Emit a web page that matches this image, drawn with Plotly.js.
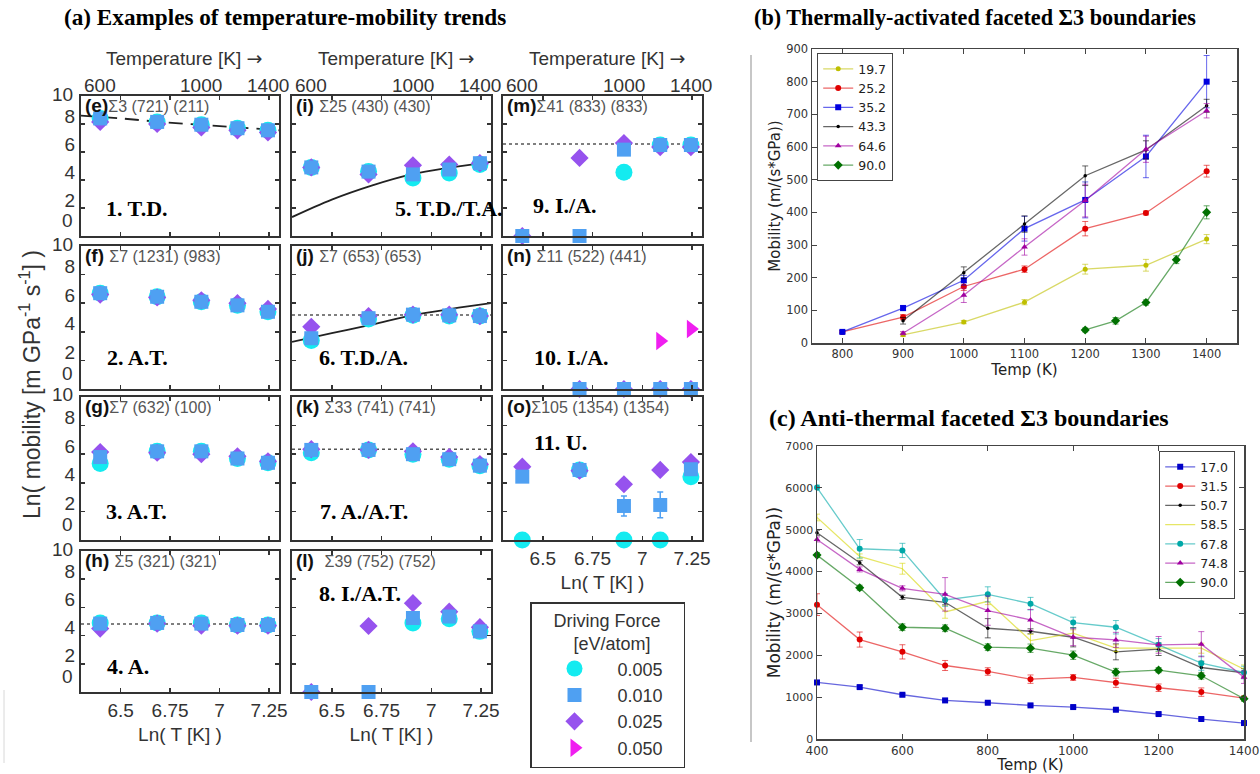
<!DOCTYPE html>
<html>
<head>
<meta charset="utf-8">
<script src="https://cdn.plot.ly/plotly-3.0.1.min.js"></script>
<style>
  html, body { margin: 0; padding: 0; background: #fff; }
  #chart { width: 1260px; height: 774px; }
</style>
</head>
<body>
<div id="chart"></div>
<script>
// ---------------- Panel (a): Ln(mobility) vs Ln(T) ----------------
const TEMPS_K = [600, 800, 1000, 1200, 1400];
const TOP_TICK_TEMPS = [600, 1000, 1400];
const LN_T_TICKS = [6.5, 6.75, 7, 7.25];
const LN_T_TICK_TEXT = ['6.5', '6.75', '7', '7.25'];
const LN_MOB_INNER_TICKS = [2, 4, 6, 8];
const LN_MOB_END_TICKS = [0, 10];
const DRIVING_FORCES = ['0.005', '0.010', '0.025', '0.050'];

// Ln(mobility) for driving forces 0.005 / 0.010 / 0.025 / 0.050 eV/atom (null = no point)
const e_005 = [8.4, 8.15, 7.95, 7.7, 7.55];
const e_010 = [8.4, 8.15, 7.95, 7.7, 7.55];
const e_025 = [8.15, 8.0, 7.75, 7.55, 7.4];

const i_005 = [4.9, 4.6, 4.15, 4.5, 5.1];
const i_010 = [4.9, 4.6, 4.4, 4.75, 5.2];
const i_025 = [4.9, 4.4, 5.05, 5.1, 5.2];

const m_005 = [null, null, 4.56, 6.5, 6.5];
const m_010 = [0, 0, 6.17, 6.5, 6.5];
const m_025 = [0, 5.58, 6.64, 6.35, 6.35];

const f_005 = [6.7, 6.45, 6.1, 5.85, 5.4];
const f_010 = [6.7, 6.45, 6.1, 5.85, 5.4];
const f_025 = [6.6, 6.4, 6.2, 6.0, 5.6];

const j_005 = [3.4, 4.9, 5.15, 5.1, 5.1];
const j_010 = [3.55, 4.95, 5.2, 5.15, 5.1];
const j_025 = [4.35, 5.1, 5.2, 5.2, 5.1];

const n_010 = [null, 0, 0, 0, 0];
const n_025 = [null, 0, 0, 0, 0];
const n_050 = [null, null, null, 3.36, 4.2];

const g_005 = [5.35, 6.2, 6.2, 5.7, 5.4];
const g_010 = [5.8, 6.2, 6.2, 5.7, 5.4];
const g_025 = [6.15, 6.1, 6.0, 5.85, 5.5];

const k_005 = [6.1, 6.3, 6.0, 5.65, 5.2];
const k_010 = [6.3, 6.3, 6.0, 5.65, 5.2];
const k_025 = [6.35, 6.3, 6.2, 5.8, 5.3];

const o_005 = [0, 4.9, 0, 0, 4.43];
const o_010 = [4.43, 4.9, 2.38, 2.45, 4.95];
const o_010_err = [0, 0, 0.7, 0.9, 0];
const o_025 = [5.13, 4.85, 3.9, 4.9, 5.45];

const h_005 = [4.9, 4.9, 4.9, 4.75, 4.75];
const h_010 = [4.85, 4.9, 4.85, 4.75, 4.75];
const h_025 = [4.5, 4.85, 4.7, 4.7, 4.7];

const l_005 = [null, null, 4.9, 5.2, 4.3];
const l_010 = [0, 0, 5.25, 5.35, 4.3];
const l_025 = [0, 4.68, 6.3, 5.7, 4.6];

// Fitted trends sampled along Ln(T)
const FIT_LNT = [6.3, 6.5, 6.7, 6.9, 7.1, 7.3];
const e_fit = [8.6, 8.4, 8.15, 7.95, 7.75, 7.55];
const i_fit = [1.35, 2.6, 3.6, 4.4, 4.9, 5.3];
const j_fit = [3.3, 3.9, 4.5, 5.15, 5.6, 6.0];
// Athermal reference levels
const m_level = 6.57;
const j_level = 5.18;
const k_level = 6.34;
const h_level = 4.82;

// ---------------- Panel (b): thermally-activated faceted Σ3 ----------------
const B_T_800 = [800, 900, 1000, 1100, 1200, 1300, 1400];
const B_T_900 = [900, 1000, 1100, 1200, 1300, 1400];
const B_T_1200 = [1200, 1250, 1300, 1350, 1400];
const b_197 = [25, 64, 125, 226, 238, 318];
const b_197_err = [5, 5, 8, 15, 18, 14];
const b_252 = [34, 79, 173, 226, 350, 398, 526];
const b_252_err = [4, 8, 12, 10, 22, 6, 18];
const b_352 = [34, 107, 192, 350, 438, 571, 800];
const b_352_err = [4, 8, 15, 38, 55, 65, 80];
const b_433 = [68, 215, 364, 512, 591, 726];
const b_433_err = [10, 18, 25, 30, 28, 20];
const b_646 = [30, 146, 294, 436, 593, 711];
const b_646_err = [5, 22, 25, 50, 40, 22];
const b_900 = [40, 68, 124, 255, 400];
const b_900_err = [6, 10, 8, 12, 20];

// ---------------- Panel (c): anti-thermal faceted Σ3 ----------------
const C_T = [400, 500, 600, 700, 800, 900, 1000, 1100, 1200, 1300, 1400];
const c_170 = [1351, 1240, 1057, 922, 866, 803, 763, 699, 596, 477, 381];
const c_170_err = [30, 40, 30, 30, 30, 30, 30, 30, 30, 30, 30];
const c_315 = [3210, 2376, 2082, 1756, 1613, 1430, 1470, 1343, 1224, 1120, 977];
const c_315_err = [260, 180, 170, 120, 90, 100, 70, 110, 90, 100, 50];
const c_507 = [4927, 4211, 3385, 3266, 2646, 2574, 2431, 2082, 2145, 1708, 1581];
const c_507_err = [60, 50, 50, 60, 230, 60, 230, 190, 150, 150, 100];
const c_585 = [5292, 4362, 4068, 3035, 3290, 2352, 2527, 2169, 2169, 2169, 1669];
const c_585_err = [80, 60, 130, 150, 80, 150, 80, 80, 80, 120, 100];
const c_678 = [6007, 4545, 4505, 3321, 3456, 3234, 2781, 2670, 2249, 1812, 1589];
const c_678_err = [60, 220, 170, 150, 180, 150, 130, 160, 150, 170, 150];
const c_748 = [4768, 4052, 3600, 3456, 3067, 2845, 2431, 2368, 2249, 2265, 1478];
const c_748_err = [60, 60, 60, 400, 350, 250, 200, 180, 200, 300, 150];
const c_900 = [4394, 3615, 2670, 2646, 2193, 2169, 2002, 1597, 1645, 1510, 961];
const c_900_err = [60, 60, 80, 80, 80, 100, 100, 90, 60, 80, 60];

// ---------------- Page geometry helpers ----------------
const W = 1260, H = 774;
const px = x => x / W;
const py = y => 1 - y / H;
const LN_T_RANGE = [6.3, 7.3];
const COL_PX = [[81, 279], [292, 491], [503, 702]];
const ROW_PX = [[96, 236], [246, 389], [397, 540], [551, 692]];
const SANS = 'Liberation Sans, Arial, sans-serif';
const SERIF = 'Liberation Serif, Times New Roman, serif';
const MPL = 'DejaVu Sans, sans-serif';
const INK = '#333';
const tickFont = () => ({ family: SANS, size: 19, color: INK });

const FORCE_STYLE = [
  { symbol: 'circle', size: 17, color: '#14EBF0' },
  { symbol: 'square', size: 14, color: '#4FA0F2' },
  { symbol: 'diamond', size: 14, color: '#9652EE' },
  { symbol: 'triangle-right', size: 16, color: '#F01EF0' }
];
const DRAW_ORDER = [0, 2, 1, 3];

const PANELS = [
  { tag: '(e)', gb: 'Σ3 (721) (211)', sp: '', cls: '1. T.D.', at: [0.116, 0.2], row: 0, col: 0, vals: [e_005, e_010, e_025, null], fit: e_fit, dash: 'dash' },
  { tag: '(i)', gb: 'Σ25 (430) (430)', sp: ' ', cls: '5. T.D./T.A.', at: [0.51, 0.2], row: 0, col: 1, vals: [i_005, i_010, i_025, null], fit: i_fit, dash: 'solid' },
  { tag: '(m)', gb: 'Σ41 (833) (833)', sp: '', cls: '9. I./A.', at: [0.14, 0.22], row: 0, col: 2, vals: [m_005, m_010, m_025, null], level: m_level },
  { tag: '(f)', gb: 'Σ7 (1231) (983)', sp: ' ', cls: '2. A.T.', at: [0.12, 0.22], row: 1, col: 0, vals: [f_005, f_010, f_025, null] },
  { tag: '(j)', gb: 'Σ7 (653) (653)', sp: ' ', cls: '6. T.D./A.', at: [0.126, 0.22], row: 1, col: 1, vals: [j_005, j_010, j_025, null], fit: j_fit, dash: 'solid', level: j_level },
  { tag: '(n)', gb: 'Σ11 (522) (441)', sp: ' ', cls: '10. I./A.', at: [0.145, 0.22], row: 1, col: 2, vals: [null, n_010, n_025, n_050] },
  { tag: '(g)', gb: 'Σ7 (632) (100)', sp: '', cls: '3. A.T.', at: [0.116, 0.2], row: 2, col: 0, vals: [g_005, g_010, g_025, null] },
  { tag: '(k)', gb: 'Σ33 (741) (741)', sp: ' ', cls: '7. A./A.T.', at: [0.13, 0.2], row: 2, col: 1, vals: [k_005, k_010, k_025, null], level: k_level },
  { tag: '(o)', gb: 'Σ105 (1354) (1354)', sp: '', cls: '11. U.', at: [0.145, 0.685], row: 2, col: 2, vals: [o_005, o_010, o_025, null], err: [null, o_010_err, null, null], bottom: true },
  { tag: '(h)', gb: 'Σ5 (321) (321)', sp: ' ', cls: '4. A.', at: [0.12, 0.18], row: 3, col: 0, vals: [h_005, h_010, h_025, null], level: h_level, bottom: true },
  { tag: '(l)', gb: 'Σ39 (752) (752)', sp: '&nbsp;&nbsp;', cls: '8. I./A.T.', at: [0.126, 0.70], row: 3, col: 1, vals: [l_005, l_010, l_025, null], bottom: true }
];

const axId = (k, letter) => (k === 1 ? letter : letter + k);
const axKey = (k, letter) => (k === 1 ? letter + 'axis' : letter + 'axis' + k);

const LN_T = TEMPS_K.map(Math.log);
const traces = [];
const layout = {
  width: W, height: H,
  margin: { l: 0, r: 0, t: 0, b: 0 },
  paper_bgcolor: '#fff', plot_bgcolor: '#fff',
  font: { family: SANS, color: INK },
  showlegend: true,
  annotations: [], shapes: []
};

const legendShown = [false, false, false, false];

PANELS.forEach((p, idx) => {
  const k = idx + 1;
  const xid = axId(k, 'x'), yid = axId(k, 'y');
  const [x0, x1] = COL_PX[p.col];
  const [y0, y1] = ROW_PX[p.row];
  const frame = () => ({
    showline: true, linecolor: INK, linewidth: 2, mirror: 'ticks',
    ticks: 'inside', ticklen: 4, tickwidth: 1.5, tickcolor: INK,
    showgrid: false, zeroline: false, fixedrange: true, tickfont: tickFont()
  });
  layout[axKey(k, 'x')] = Object.assign(frame(), {
    domain: [px(x0), px(x1)], range: LN_T_RANGE.slice(), anchor: yid,
    tickvals: LN_T_TICKS, ticktext: LN_T_TICK_TEXT,
    showticklabels: !!p.bottom,
    title: p.bottom ? { text: 'Ln( T [K] )', font: tickFont(), standoff: 8 } : { text: '' }
  });
  const leftCol = p.col === 0;
  layout[axKey(k, 'y')] = Object.assign(frame(), {
    domain: [py(y1), py(y0)], range: [0, 10], anchor: xid,
    tickvals: LN_MOB_INNER_TICKS, ticktext: LN_MOB_INNER_TICKS.map(String),
    showticklabels: leftCol, ticklabelshift: -8
  });
  // End labels (0 and 10) are nudged apart from the neighbouring panels' labels
  if (leftCol) {
    LN_MOB_END_TICKS.forEach(v => {
      layout.annotations.push({
        xref: xid + ' domain', yref: yid, x: 0, y: v, xanchor: 'right', yanchor: 'middle',
        xshift: -6, yshift: v === 0 ? 16 : 2, showarrow: false,
        text: String(v), font: tickFont()
      });
    });
  }

  // Temperature scale along the top of the first row, placed at Ln(T)
  if (p.row === 0) {
    TOP_TICK_TEMPS.forEach(t => {
      layout.annotations.push({
        xref: xid, yref: yid + ' domain', x: Math.log(t), y: 1,
        xanchor: 'center', yanchor: 'bottom', yshift: -2, showarrow: false,
        text: String(t), font: tickFont()
      });
    });
    layout.annotations.push({
      xref: xid + ' domain', yref: yid + ' domain', x: 0.5, y: 1,
      xanchor: 'center', yanchor: 'bottom', xshift: 4, yshift: 25, showarrow: false,
      text: 'Temperature [K] <span style="font-family:\'DejaVu Sans\';color:#333">→</span>',
      font: tickFont()
    });
  }

  // Athermal reference level
  if (p.level !== undefined) {
    traces.push({
      type: 'scatter', mode: 'lines', x: LN_T_RANGE, y: [p.level, p.level],
      xaxis: xid, yaxis: yid, showlegend: false, hoverinfo: 'skip',
      line: { color: '#555', width: 1.5, dash: 'dot' }
    });
  }
  // Fitted trend
  if (p.fit) {
    traces.push({
      type: 'scatter', mode: 'lines', x: FIT_LNT, y: p.fit,
      line: { shape: 'spline', color: '#222', width: 1.8, dash: p.dash === 'dash' ? '14px,8px' : 'solid' },
      xaxis: xid, yaxis: yid, showlegend: false, hoverinfo: 'skip'
    });
  }

  DRAW_ORDER.forEach(fi => {
    const vals = p.vals[fi];
    if (!vals) return;
    const st = FORCE_STYLE[fi];
    const tr = {
      type: 'scatter', mode: 'markers', x: LN_T, y: vals,
      xaxis: xid, yaxis: yid, cliponaxis: false,
      name: DRIVING_FORCES[fi], legendgroup: DRIVING_FORCES[fi], legendrank: fi + 1,
      legend: 'legend', showlegend: !legendShown[fi],
      marker: { symbol: st.symbol, size: st.size, color: st.color, line: { width: 0 } }
    };
    legendShown[fi] = true;
    if (p.err && p.err[fi]) {
      tr.error_y = { type: 'data', array: p.err[fi], visible: true, color: st.color, thickness: 1.5, width: 3 };
    }
    traces.push(tr);
  });

  // Panel tag and boundary description
  layout.annotations.push({
    xref: xid + ' domain', yref: yid + ' domain', x: 0.012, y: 0.935,
    xanchor: 'left', yanchor: 'middle', showarrow: false,
    text: '<b>' + p.tag + '</b>' + p.sp + '<span style="font-size:16px;color:#555;font-weight:normal">' + p.gb + '</span>',
    font: { family: SANS, size: 19, color: '#111' }
  });
  // Trend class
  layout.annotations.push({
    xref: xid + ' domain', yref: yid + ' domain', x: p.at[0], y: p.at[1],
    xanchor: 'left', yanchor: 'middle', showarrow: false,
    text: '<b>' + p.cls + '</b>', font: { family: SERIF, size: 22, color: '#000' }
  });
});

// Shared y-axis title for panel (a)
layout.annotations.push({
  xref: 'paper', yref: 'paper', x: px(30), y: py(385), xanchor: 'center', yanchor: 'middle',
  textangle: -90, showarrow: false,
  text: 'Ln( mobility [m GPa<sup>-1</sup> s<sup>-1</sup>] )',
  font: { family: SANS, size: 23, color: INK }
});

layout.legend = {
  x: px(530), y: py(602), xanchor: 'left', yanchor: 'top',
  bgcolor: '#fff', bordercolor: INK, borderwidth: 1.5,
  font: { family: SANS, size: 18, color: INK },
  title: {
    text: '&nbsp;&nbsp;&nbsp;&nbsp;Driving Force&nbsp;&nbsp;&nbsp;&nbsp;<br>&nbsp;&nbsp;&nbsp;&nbsp;&nbsp;&nbsp;&nbsp;&nbsp;[eV/atom]',
    side: 'top', font: { family: SANS, size: 18, color: INK }
  },
  itemwidth: 76, traceorder: 'normal'
};

// ---------------- Panels (b) and (c): matplotlib-style frames ----------------
const mplFrame = () => ({
  showline: true, linecolor: '#444', linewidth: 1.5, mirror: 'allticks',
  ticks: 'inside', ticklen: 5, tickwidth: 1, tickcolor: '#444',
  showgrid: false, zeroline: false, fixedrange: true
});
layout.xaxis12 = Object.assign(mplFrame(), {
  domain: [px(812), px(1237)], range: [750, 1450], dtick: 100, anchor: 'y12',
  tickfont: { family: MPL, size: 11.5, color: INK },
  title: { text: 'Temp (K)', font: { family: MPL, size: 15, color: '#222' }, standoff: 4 }
});
layout.yaxis12 = Object.assign(mplFrame(), {
  domain: [py(343), py(49)], range: [0, 900], dtick: 100, anchor: 'x12',
  tickfont: { family: MPL, size: 11.5, color: INK },
  title: { text: 'Mobility (m/(s*GPa))', font: { family: MPL, size: 15, color: '#222' }, standoff: 2 }
});
layout.xaxis13 = Object.assign(mplFrame(), {
  domain: [px(817), px(1244)], range: [400, 1400], dtick: 200, anchor: 'y13',
  tickfont: { family: MPL, size: 12, color: INK },
  title: { text: 'Temp (K)', font: { family: MPL, size: 15, color: '#222' }, standoff: 2 }
});
layout.yaxis13 = Object.assign(mplFrame(), {
  domain: [py(739), py(446)], range: [0, 7000], dtick: 1000, anchor: 'x13',
  tickfont: { family: MPL, size: 11, color: INK },
  title: { text: 'Mobility (m/(s*GPa))', font: { family: MPL, size: 17, color: '#222' }, standoff: 0 }
});

function rgba(hex, a) {
  const n = parseInt(hex.slice(1), 16);
  return 'rgba(' + (n >> 16 & 255) + ',' + (n >> 8 & 255) + ',' + (n & 255) + ',' + a + ')';
}
function mplSeries(name, x, y, err, color, symbol, size, axis, legend, showMarker) {
  return {
    type: 'scatter', mode: showMarker === false ? 'lines' : 'lines+markers', name, x, y,
    xaxis: 'x' + axis, yaxis: 'y' + axis, legend, cliponaxis: false,
    line: { color: rgba(color, 0.6), width: 1.3 },
    marker: { color: color, symbol, size, line: { width: 0 } },
    error_y: { type: 'data', array: err, visible: true, color: rgba(color, 0.6), thickness: 1, width: 3 }
  };
}

traces.push(
  mplSeries('19.7', B_T_900, b_197, b_197_err, '#BFBF00', 'circle', 5, 12, 'legend2'),
  mplSeries('25.2', B_T_800, b_252, b_252_err, '#E00000', 'circle', 6, 12, 'legend2'),
  mplSeries('35.2', B_T_800, b_352, b_352_err, '#0000E0', 'square', 6, 12, 'legend2'),
  mplSeries('43.3', B_T_900, b_433, b_433_err, '#000000', 'circle', 3.5, 12, 'legend2'),
  mplSeries('64.6', B_T_900, b_646, b_646_err, '#A000A0', 'triangle-up', 6, 12, 'legend2'),
  mplSeries('90.0', B_T_1200, b_900, b_900_err, '#007000', 'diamond', 7, 12, 'legend2'),

  mplSeries('17.0', C_T, c_170, c_170_err, '#0000C8', 'square', 6, 13, 'legend3'),
  mplSeries('31.5', C_T, c_315, c_315_err, '#E00000', 'circle', 6, 13, 'legend3'),
  mplSeries('50.7', C_T, c_507, c_507_err, '#000000', 'circle', 3.5, 13, 'legend3'),
  mplSeries('58.5', C_T, c_585, c_585_err, '#D6D600', 'circle', 3, 13, 'legend3', false),
  mplSeries('67.8', C_T, c_678, c_678_err, '#00A8A8', 'circle', 6, 13, 'legend3'),
  mplSeries('74.8', C_T, c_748, c_748_err, '#A000A0', 'triangle-up', 6, 13, 'legend3'),
  mplSeries('90.0', C_T, c_900, c_900_err, '#007000', 'diamond', 7, 13, 'legend3')
);

layout.legend2 = {
  x: px(817), y: py(53), xanchor: 'left', yanchor: 'top',
  bgcolor: '#fff', bordercolor: '#444', borderwidth: 1.2,
  font: { family: MPL, size: 12.5, color: '#222' }, traceorder: 'normal'
};
layout.legend3 = {
  x: px(1159), y: py(451), xanchor: 'left', yanchor: 'top',
  bgcolor: '#fff', bordercolor: '#444', borderwidth: 1.2,
  font: { family: MPL, size: 12.5, color: '#222' }, traceorder: 'normal'
};

// Headings
const heading = (text, x, y, size) => ({
  xref: 'paper', yref: 'paper', x: px(x), y: py(y), xanchor: 'left', yanchor: 'middle',
  showarrow: false, text: '<b>' + text + '</b>', font: { family: SERIF, size: size, color: '#000' }
});
layout.annotations.push(
  heading('(a) Examples of temperature-mobility trends', 62, 17, 23.2),
  heading('(b) Thermally-activated faceted Σ3 boundaries', 752, 17, 22.2),
  heading('(c) Anti-thermal faceted Σ3 boundaries', 767, 418, 24)
);

// Divider between panel (a) and panels (b), (c)
layout.shapes.push(
  { type: 'line', xref: 'paper', yref: 'paper', x0: px(751), x1: px(751), y0: py(55), y1: py(742), line: { color: '#b4b4b4', width: 1.5 } },
  { type: 'line', xref: 'paper', yref: 'paper', x0: px(4), x1: px(4), y0: py(690), y1: py(763), line: { color: '#d8d8d8', width: 1 } }
);

Plotly.newPlot('chart', traces, layout, { displayModeBar: false, staticPlot: true });
</script>
</body>
</html>
